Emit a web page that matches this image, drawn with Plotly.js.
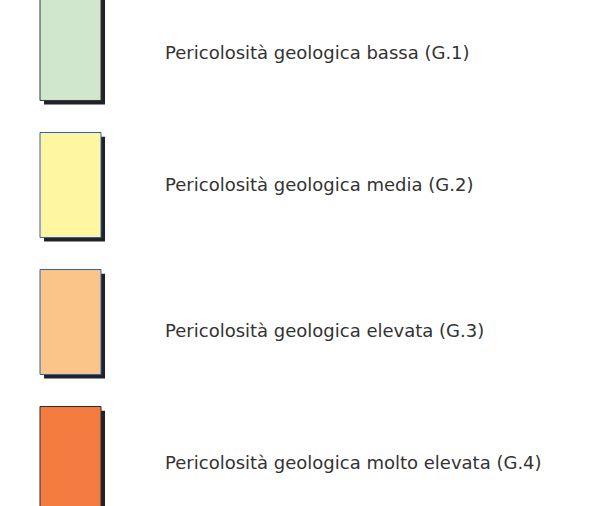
<!DOCTYPE html>
<html>
<head>
<meta charset="utf-8">
<script src="https://cdn.plot.ly/plotly-3.0.1.min.js"></script>
<style>html,body{margin:0;padding:0;background:#fff;}#chart{width:594px;height:506px;}</style>
</head>
<body>
<div id="chart"></div>
<script>
// Legend classes (top to bottom)
const labels = [
  "Pericolosità geologica bassa (G.1)",
  "Pericolosità geologica media (G.2)",
  "Pericolosità geologica elevata (G.3)",
  "Pericolosità geologica molto elevata (G.4)"
];
const classes = [0, 1, 2, 3];
const labelRows = [0.05, 1.01, 2.08, 3.04];
const boxValues = [1, 1, 1, 1];
const fillColors = ["#d1e7cd", "#fff6a1", "#fbc489", "#f47c40"];
const borderColors = ["#2b3a3a", "#2f63b0", "#2f63b0", "#2b2b33"];

const boxW = 0.766;      // bar thickness (row units)
const shadowDy = 0.03;   // shadow shift (row units)
const shadowDx = 0.066;  // shadow shift (x units)

const shadow = {
  type: 'bar', orientation: 'h',
  y: classes, x: boxValues, base: classes.map(() => shadowDx),
  width: boxW, offset: -boxW / 2 + shadowDy,
  marker: { color: '#222226', line: { width: 0 } },
  hoverinfo: 'skip', showlegend: false
};
const boxes = {
  type: 'bar', orientation: 'h',
  y: classes, x: boxValues, base: classes.map(() => 0),
  width: boxW, offset: -boxW / 2,
  marker: { color: fillColors, line: { color: borderColors, width: 1 } },
  hoverinfo: 'skip', showlegend: false
};
const text = {
  type: 'scatter', mode: 'text',
  y: labelRows, x: classes.map(() => 2.05),
  text: labels, textposition: 'middle right',
  textfont: { family: 'DejaVu Sans, Verdana, sans-serif', size: 18, color: '#333333' },
  hoverinfo: 'skip', showlegend: false
};

const layout = {
  width: 594, height: 506,
  margin: { l: 0, r: 0, t: 0, b: 0, pad: 0 },
  paper_bgcolor: '#ffffff', plot_bgcolor: '#ffffff',
  barmode: 'overlay', showlegend: false,
  xaxis: { range: [-40 / 61, 554 / 61], visible: false, fixedrange: true },
  yaxis: { range: [(506 - 48) / 137, -48 / 137], visible: false, fixedrange: true }
};

Plotly.newPlot('chart', [shadow, boxes, text], layout, { staticPlot: true, displayModeBar: false });
</script>
</body>
</html>
